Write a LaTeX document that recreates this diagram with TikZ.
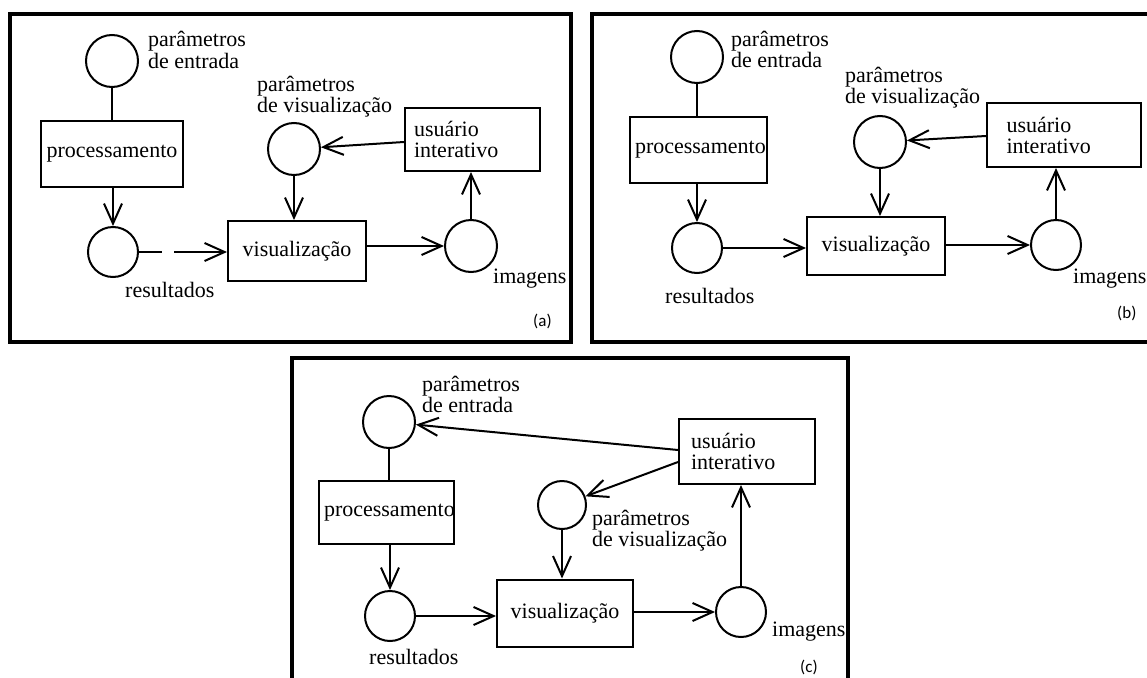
\documentclass[tikz,border=0pt]{standalone}
\usepackage{fontspec}
\setmainfont{Liberation Serif}
\newfontfamily\labfont{Carlito}
\usetikzlibrary{arrows.meta}
\tikzset{
  frame/.style={line width=3.8pt},
  circ/.style={draw, circle, line width=2pt, inner sep=0pt, minimum size=#1},
  circ/.default=52pt,
  procbox/.style={draw, rectangle, line width=2pt, inner sep=0pt, font=\fontsize{22}{21}\selectfont},
  txt/.style={font=\fontsize{22}{21}\selectfont, align=left, inner sep=0pt},
  conn/.style={line width=2pt},
  arr/.style={line width=2pt, -{Straight Barb[length=20pt,width=18pt,line width=2pt]}},
  sub/.style={font=\labfont\fontsize{17}{19}\selectfont, inner sep=0pt}
}
\begin{document}
\begin{tikzpicture}[x=1pt,y=-1pt]
\useasboundingbox (0,0) rectangle (1147,677);
% ---------- panel (a)
\draw[frame] (10,14) rectangle (571,342);
\node[circ=52pt] (ae) at (112,61) {};
\node[txt, anchor=base west] (aet) at (148,68) {parâmetros\\de entrada};
\node[procbox, minimum width=142pt, minimum height=66pt] (ap) at (112,154) {processamento};
\node[circ=50pt] (ar) at (113,252) {};
\node[txt, anchor=base west] (art) at (125,297) {resultados};
\node[procbox, minimum width=138pt, minimum height=60pt] (av) at (297,251) {visualização};
\node[circ=52pt] (ai) at (471,246) {};
\node[txt, anchor=base west] (ait) at (493,283) {imagens};
\node[procbox, minimum width=135pt, minimum height=63pt, align=left, text width=117pt] (au) at (472.5,139.5) {usuário\\interativo};
\node[circ=52pt] (avp) at (294,149) {};
\node[txt, anchor=base west] (avpt) at (257,112) {parâmetros\\de visualização};
\node[sub, anchor=base west] (al) at (533,326) {(a)};
\draw[conn] (ae) -- (ap.north -| ae);
\draw[arr] (ap.south -| ar) -- (ar);
\draw[arr, dash pattern=on 23pt off 12pt on 200pt off 0pt] (ar) -- (av.west |- ar);
\draw[arr] (av.east |- ai) -- (ai);
\draw[arr] (ai) -- (au.south -| ai);
\draw[arr] (au.west |- 0,142) -- (avp);
\draw[arr] (avp) -- (av.north -| avp);
% ---------- panel (b)
\draw[frame] (1160,14) -- (592,14) -- (592,342) -- (1160,342);
\node[circ=52pt] (be) at (697,57) {};
\node[txt, anchor=base west] (bet) at (731,67) {parâmetros\\de entrada};
\node[procbox, minimum width=137pt, minimum height=66pt, text width=127pt, align=left] (bp) at (698.5,150) {processamento};
\node[circ=50pt] (br) at (697,248) {};
\node[txt, anchor=base west] (brt) at (665,303) {resultados};
\node[procbox, minimum width=138pt, minimum height=58pt] (bv) at (876,246) {visualização};
\node[circ=50pt] (bi) at (1056,245) {};
\node[txt, anchor=base west] (bit) at (1073,283) {imagens};
\node[procbox, minimum width=154pt, minimum height=64pt, align=left, text width=115pt] (bu) at (1064,135) {usuário\\interativo};
\node[circ=52pt] (bvp) at (880,142) {};
\node[txt, anchor=base west] (bvpt) at (845,103) {parâmetros\\de visualização};
\node[sub, anchor=base west] (bl) at (1117,318) {(b)};
\draw[conn] (be) -- (bp.north -| be);
\draw[arr] (bp.south -| br) -- (br);
\draw[arr] (br) -- (bv.west |- br);
\draw[arr] (bv.east |- bi) -- (bi);
\draw[arr] (bi) -- (bu.south -| bi);
\draw[arr] (bu.west |- 0,136) -- (bvp);
\draw[arr] (bvp) -- (bv.north -| bvp);
% ---------- panel (c)
\draw[frame] (292,690) -- (292,358) -- (848,358) -- (848,690);
\node[circ=52pt] (ce) at (389,422) {};
\node[txt, anchor=base west] (cet) at (422,412) {parâmetros\\de entrada};
\node[procbox, minimum width=135pt, minimum height=63pt, text width=125pt, align=left] (cp) at (386.5,512.5) {processamento};
\node[circ=50pt] (cr) at (390,616) {};
\node[txt, anchor=base west] (crt) at (369,664) {resultados};
\node[procbox, minimum width=136pt, minimum height=67pt] (cv) at (565,613) {visualização};
\node[circ=50pt] (ci) at (741,612) {};
\node[txt, anchor=base west] (cit) at (772,636) {imagens};
\node[procbox, minimum width=136pt, minimum height=65pt, align=left, text width=112pt] (cu) at (747,451.5) {usuário\\interativo};
\node[circ=48pt] (cvp) at (562,505) {};
\node[txt, anchor=base west] (cvpt) at (592,546) {parâmetros\\de visualização};
\node[sub, anchor=base west] (cl) at (800,672) {(c)};
\draw[conn] (ce) -- (cp.north -| ce);
\draw[arr] (cp.south -| cr) -- (cr);
\draw[arr] (cr) -- (cv.west |- cr);
\draw[arr] (cv.east |- ci) -- (ci);
\draw[arr] (ci) -- (cu.south -| ci);
\draw[arr] (cu.west |- 0,450) -- (ce);
\draw[arr] (cu.west |- 0,462) -- (cvp);
\draw[arr] (cvp) -- (cv.north -| cvp);
\end{tikzpicture}
\end{document}
